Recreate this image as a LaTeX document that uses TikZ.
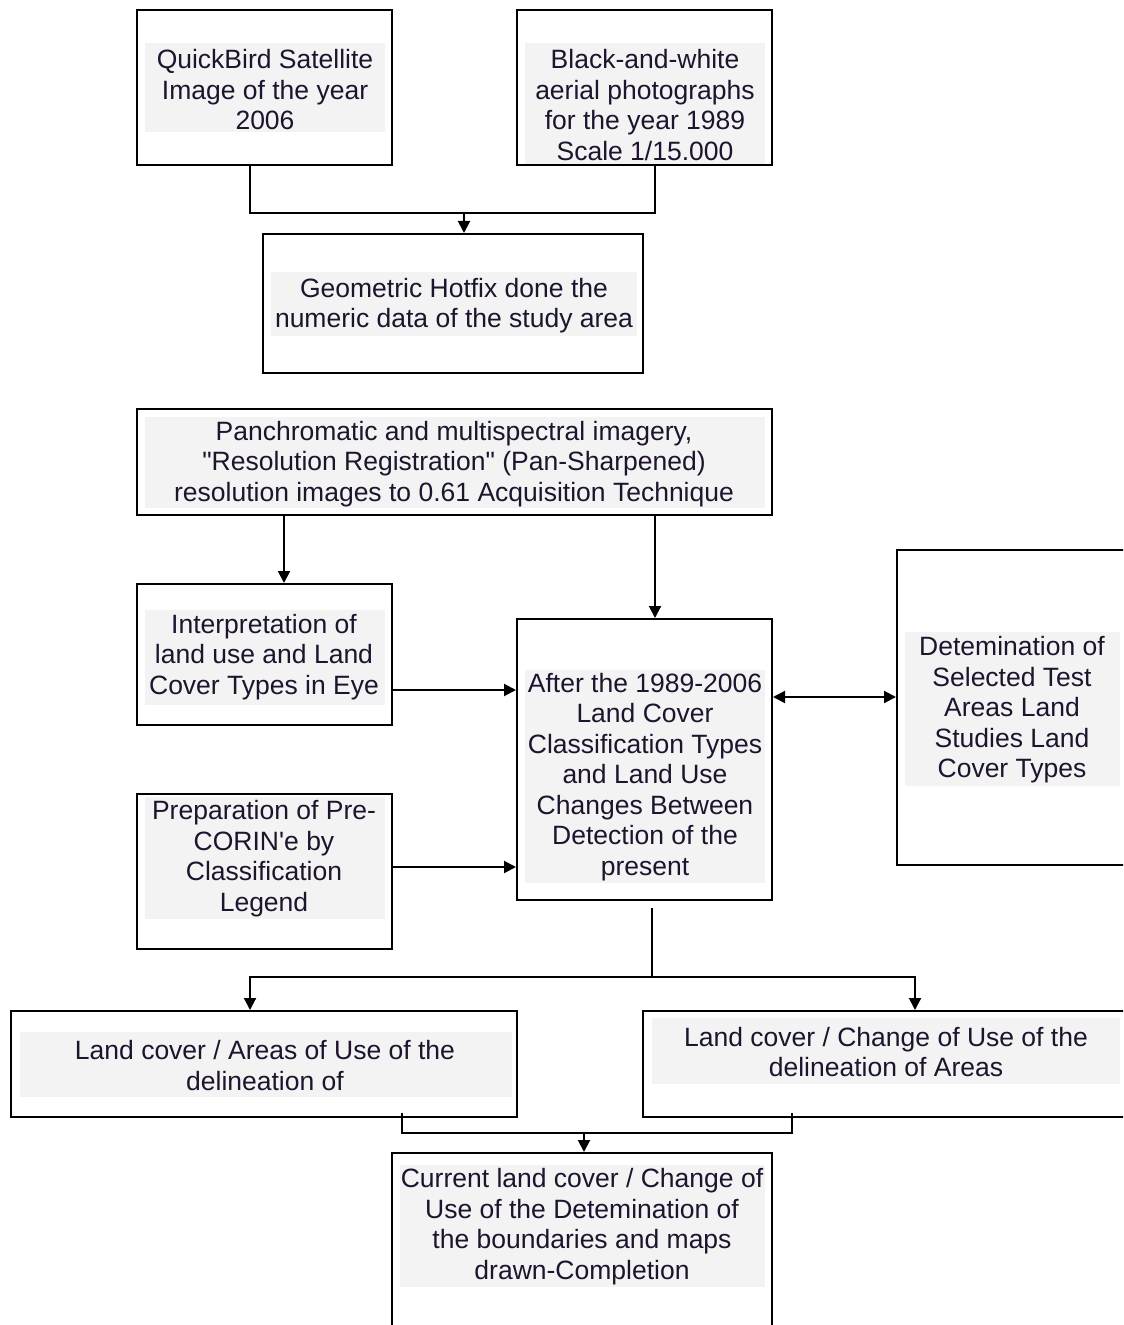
\documentclass[tikz,border=0pt]{standalone}
\usepackage{fontspec}
\setmainfont{Liberation Sans}[Ligatures=TeXOff]
\usetikzlibrary{arrows.meta,calc,fit}
\definecolor{bggray}{RGB}{243,243,243}
\definecolor{txtcol}{RGB}{30,20,45}
\tikzset{
  box/.style={draw=black, line width=1pt, inner sep=0pt, fill=white},
  tbg/.style={fill=bggray, inner sep=0pt},
  txt/.style={inner sep=0pt, align=center, text=txtcol, anchor=center,
    font=\fontsize{13.25pt}{15.25pt}\selectfont},
  line/.style={draw=black, line width=1pt},
  arr/.style={line, -{Triangle[length=6pt,width=6pt]}},
  darr/.style={line, {Triangle[length=6pt,width=6pt]}-{Triangle[length=6pt,width=6pt]}}
}
\begin{document}
\begin{tikzpicture}[x=0.5pt,y=-0.5pt]
\useasboundingbox (0,0) rectangle (1123,1325);
\clip (0,0) rectangle (1123,1325);
\fill[white] (0,0) rectangle (1123,1325);

% helper coordinates
\coordinate (x250) at (250,0);
\coordinate (x284) at (284,0);
\coordinate (x402) at (402,0);
\coordinate (x652) at (652,0);
\coordinate (x655) at (655,0);
\coordinate (x792) at (792,0);
\coordinate (x915) at (915,0);
\coordinate (y690) at (0,690);
\coordinate (y697) at (0,697);
\coordinate (y867) at (0,867);

% boxes
\node[box, fit={(137,10)(392,165)}] (qb) {};
\node[tbg, fit={(145,43)(385,132)}] (qbt) {};
\node[txt] (qbl) at (265,90) {QuickBird Satellite\\Image of the year\\2006};

\node[box, fit={(517,10)(772,165)}] (bw) {};
\node[tbg, fit={(525,43)(765,164)}] (bwt) {};
\node[txt] (bwl) at (645,105) {Black-and-white\\aerial photographs\\for the year 1989\\Scale 1/15.000};

\node[box, fit={(263,234)(643,373)}] (geo) {};
\node[tbg, fit={(271,272)(637,336)}] (geot) {};
\node[txt] (geol) at (454,305.5) {Geometric Hotfix done the\\numeric data of the study area};

\node[box, fit={(137,409)(772,515)}] (pan) {};
\node[tbg, fit={(145,417)(765,508)}] (pant) {};
\node[txt] (panl) at (454,464) {Panchromatic and multispectral imagery,\\"Resolution Registration" (Pan-Sharpened)\\resolution images to 0.61 Acquisition Technique};

\node[box, fit={(137,584)(392,725)}] (interp) {};
\node[tbg, fit={(145,610)(385,705)}] (interpt) {};
\node[txt] (interpl) at (264,657) {Interpretation of\\land use and Land\\Cover Types in Eye};

\node[box, fit={(517,619)(772,900)}] (after) {};
\node[tbg, fit={(525,670)(765,883)}] (aftert) {};
\node[txt] (afterl) at (645,777) {After the 1989-2006\\Land Cover\\Classification Types\\and Land Use\\Changes Between\\Detection of the\\present};

\node[box, fit={(897,550)(1140,865)}] (det) {};
\node[tbg, fit={(905,632)(1120,786)}] (dett) {};
\node[txt] (detl) at (1012,710) {Detemination of\\Selected Test\\Areas Land\\Studies Land\\Cover Types};

\node[box, fit={(137,794)(392,949)}] (prep) {};
\node[tbg, fit={(145,797)(385,919)}] (prept) {};
\node[txt] (prepl) at (264,858.5) {Preparation of Pre-\\CORIN'e by\\Classification\\Legend};

\node[box, fit={(11,1011)(517,1117)}] (lca) {};
\node[tbg, fit={(20,1032)(512,1097)}] (lcat) {};
\node[txt] (lcal) at (265,1065.5) {Land cover / Areas of Use of the\\delineation of};

\node[box, fit={(643,1011)(1140,1117)}] (lcc) {};
\node[tbg, fit={(652,1018)(1120,1084)}] (lcct) {};
\node[txt] (lccl) at (886,1052) {Land cover / Change of Use of the\\delineation of Areas};

\node[box, fit={(392,1153)(772,1345)}] (cur) {};
\node[tbg, fit={(400,1165)(765,1287)}] (curt) {};
\node[txt] (curl) at (582,1226.5) {Current land cover / Change of\\Use of the Detemination of\\the boundaries and maps\\drawn-Completion};

% connectors
\coordinate (j1) at (464,213);
\draw[line] (qb.south -| x250) |- (j1);
\draw[line] (bw.south -| x655) |- (j1);
\draw[arr] (j1) -- (geo.north -| j1);

\draw[arr] (pan.south -| x284) -- (interp.north -| x284);
\draw[arr] (pan.south -| x655) -- (after.north -| x655);

\draw[arr] (interp.east |- y690) -- (after.west |- y690);
\draw[arr] (prep.east |- y867) -- (after.west |- y867);
\draw[darr] (after.east |- y697) -- (det.west |- y697);

\coordinate (j2) at (652,977);
\draw[line] ($(after.south -| x652)+(0,7)$) -- (j2);
\draw[arr] (j2) -| (lca.north -| x250);
\draw[arr] (j2) -| (lcc.north -| x915);

\coordinate (j3) at (584,1133);
\draw[line] ($(lca.south -| x402)+(0,-5)$) |- (j3);
\draw[line] ($(lcc.south -| x792)+(0,-5)$) |- (j3);
\draw[arr] (j3) -- (cur.north -| j3);
\end{tikzpicture}
\end{document}
